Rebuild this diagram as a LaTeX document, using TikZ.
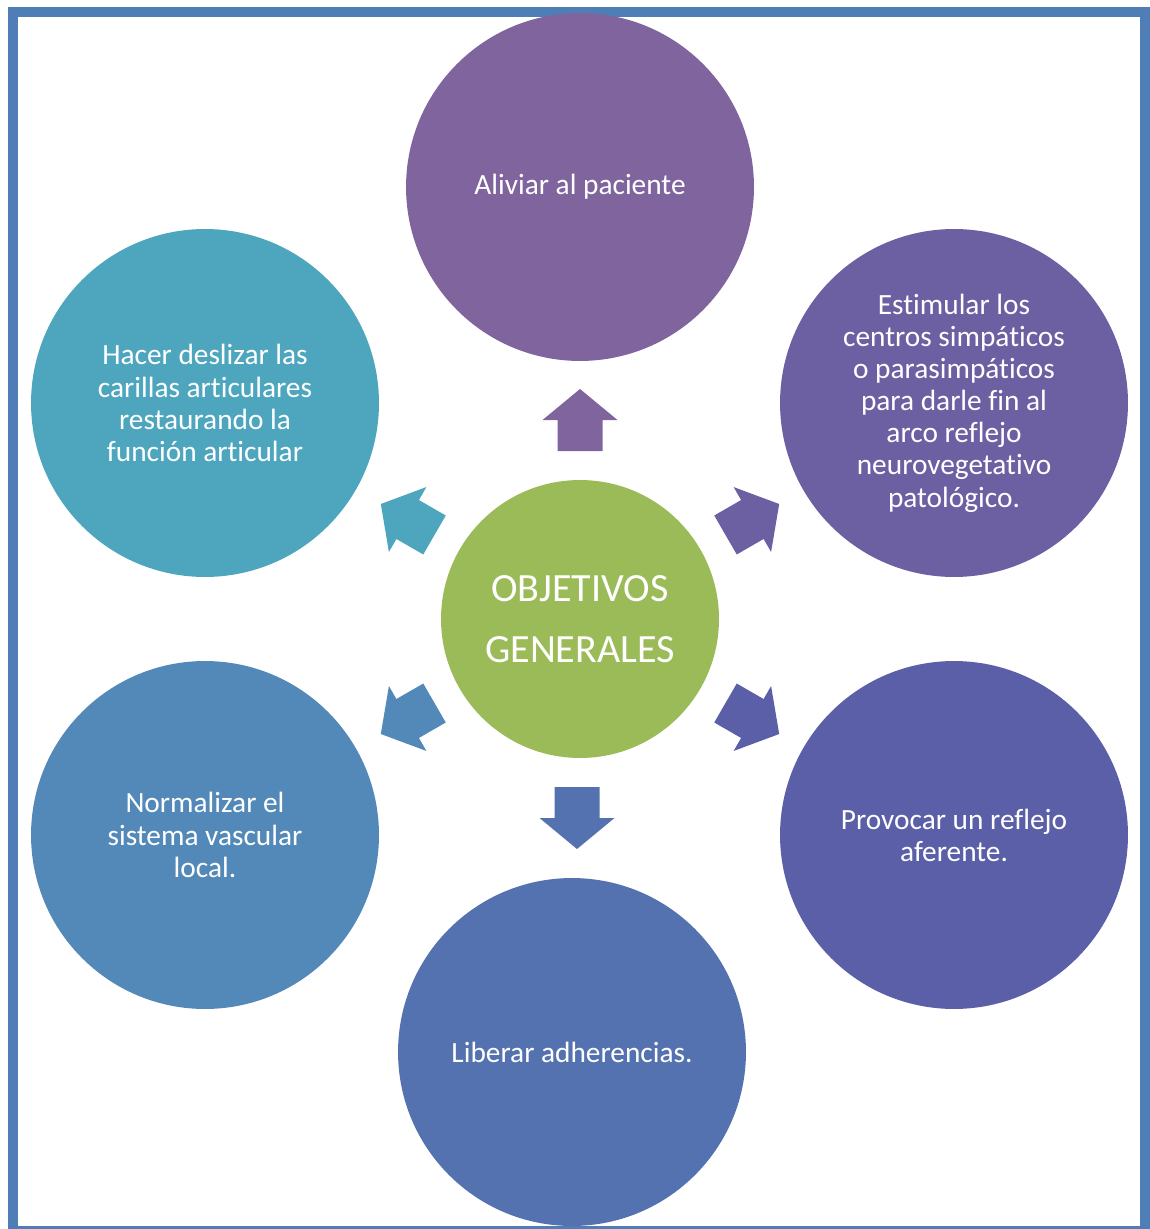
\documentclass[tikz,border=0pt]{standalone}
\usepackage{fontspec}
\setmainfont{Carlito}[Ligatures=NoCommon]
\usepackage{xcolor}
\usepackage{tikz}
\usetikzlibrary{positioning}

\definecolor{frameblue}{RGB}{79,126,182}
\definecolor{hubgreen}{RGB}{155,187,89}
\definecolor{cA}{RGB}{128,100,158}
\definecolor{cB}{RGB}{108,95,162}
\definecolor{cC}{RGB}{91,95,167}
\definecolor{cD}{RGB}{85,114,176}
\definecolor{cE}{RGB}{83,137,184}
\definecolor{cF}{RGB}{77,166,190}

\begin{document}
\begin{tikzpicture}[x=0.02cm, y=-0.02cm,
  g/.style={circle, minimum size=6.96cm, inner sep=0pt, text=white, align=center,
    font=\fontsize{16.7}{18.3}\selectfont},
  hub/.style={circle, fill=hubgreen, minimum size=5.56cm, inner sep=0pt, text=white,
    align=center, font=\fontsize{22.8}{34.6}\selectfont}]
\useasboundingbox (0,0) rectangle (1149,1229);
\draw[frameblue, line width=6.2pt] (13,12) rectangle (1145,1231);
% centre and the six goals
\node[hub] (og) at (580,619) {OBJETIVOS\\GENERALES};
\node[g, fill=cA] (al) at (580,187) {Aliviar al paciente};
\node[g, fill=cB] (es) at (954,403) {Estimular los\\centros simpáticos\\o parasimpáticos\\para darle fin al\\arco reflejo\\neurovegetativo\\patológico.};
\node[g, fill=cC] (pr) at (954,835) {Provocar un reflejo\\aferente.};
\node[g, fill=cD] (li) at (572,1052) {Liberar adherencias.};
\node[g, fill=cE] (no) at (205,835) {Normalizar el\\sistema vascular\\local.};
\node[g, fill=cF] (ha) at (205,403) {Hacer deslizar las\\carillas articulares\\restaurando la\\función articular};
% block arrows out of the centre
\foreach \a/\c/\dx in {90/cA/0, 30/cB/0, -30/cC/0, 270/cD/-3, 210/cE/0, 150/cF/0}
  \fill[\c, shift={(og.center)}, xshift=\dx*0.02cm, rotate=\a] (168,-22.5) -- (199,-22.5)
    -- (199,-37.5) -- (230,0) -- (199,37.5) -- (199,22.5) -- (168,22.5) -- cycle;
\end{tikzpicture}
\end{document}
